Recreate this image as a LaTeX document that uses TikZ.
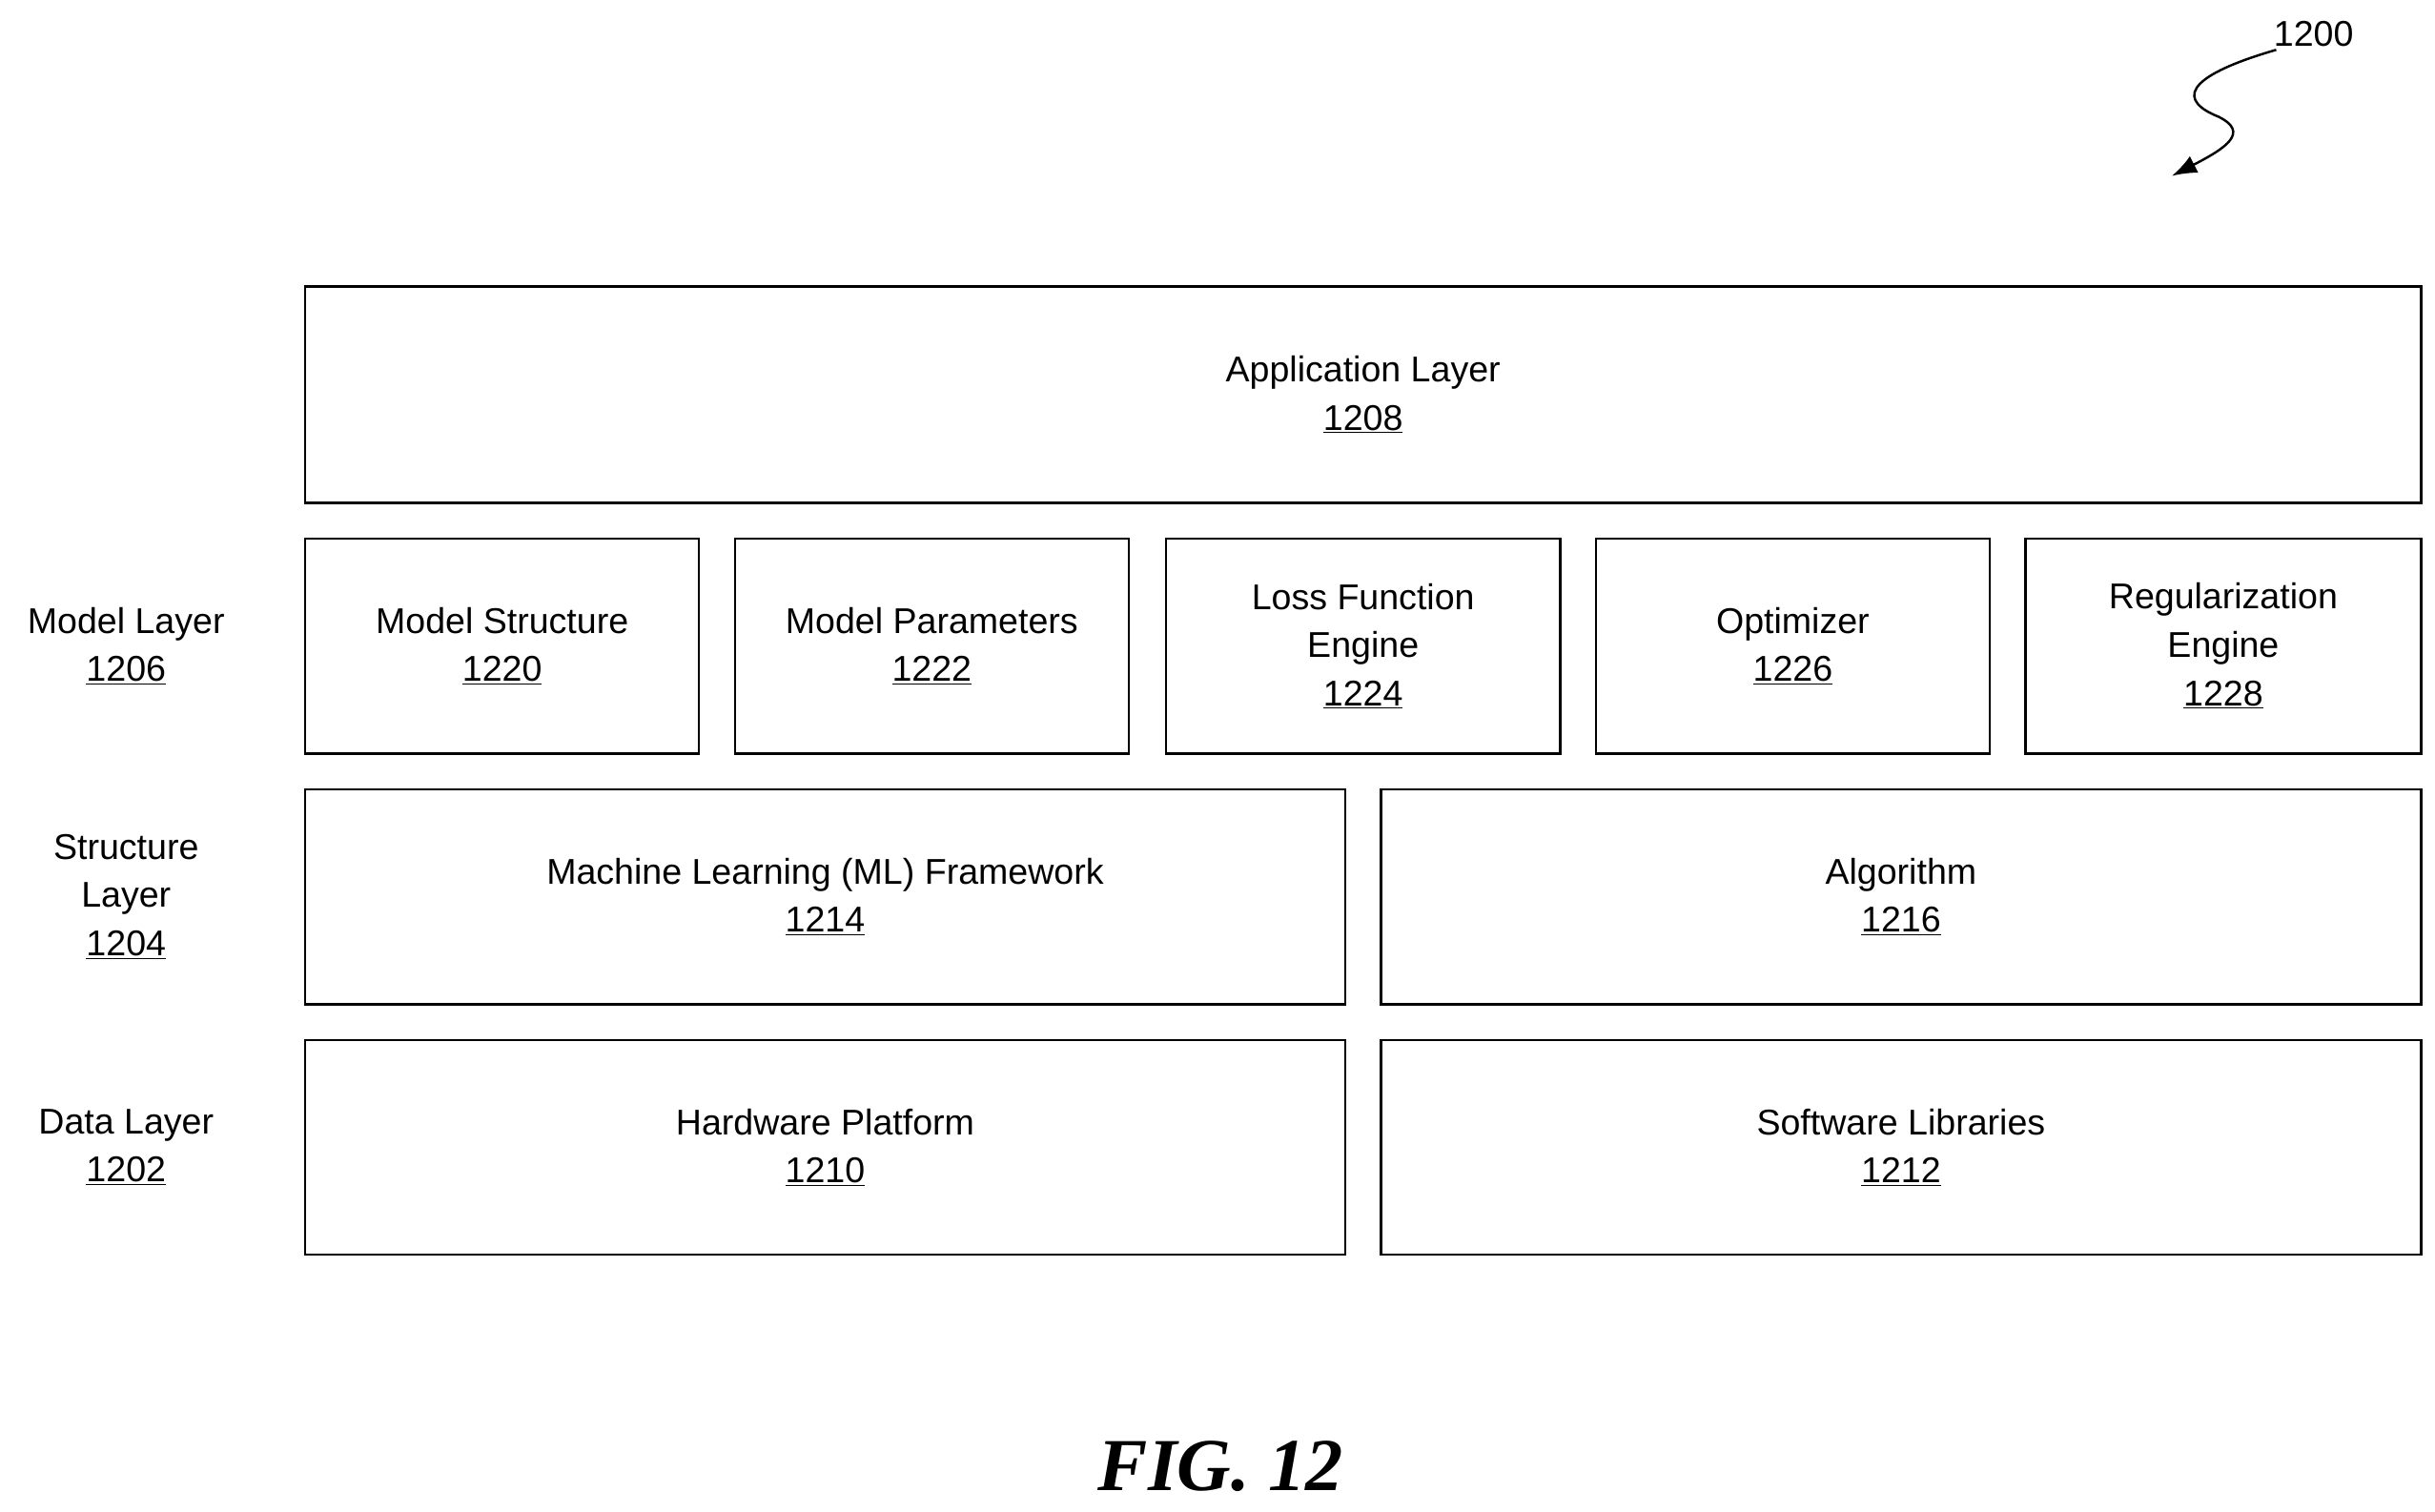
\documentclass[tikz,border=0pt]{standalone}
\usepackage{fontspec}
\usetikzlibrary{arrows.meta}
\setmainfont{Liberation Sans}
\newfontfamily\figfont{Liberation Serif}
\begin{document}
\begin{tikzpicture}[x=1pt,y=-1pt,
  box/.style={draw,line width=1.5pt,inner sep=0pt,align=center,font=\fontsize{23}{31}\selectfont},
  lab/.style={align=center,font=\fontsize{23}{31}\selectfont}]
\useasboundingbox (0,0) rectangle (1564,971);
\newcommand\bx[6]{\node[box,minimum width=#4-#2,minimum height=#5-#3] (#1) at ({(#2+#4)/2},{(#3+#5)/2}) {#6};}
\bx{app}{196}{184}{1555}{323}{Application Layer\\\underline{1208}}
\bx{ms}{196}{346}{449}{484}{Model Structure\\\underline{1220}}
\bx{mp}{472}{346}{725}{484}{Model Parameters\\\underline{1222}}
\bx{lf}{749}{346}{1002}{484}{Loss Function\\Engine\\\underline{1224}}
\bx{op}{1025}{346}{1278}{484}{Optimizer\\\underline{1226}}
\bx{re}{1301}{346}{1555}{484}{Regularization\\Engine\\\underline{1228}}
\bx{ml}{196}{507}{864}{645}{Machine Learning (ML) Framework\\\underline{1214}}
\bx{al}{887}{507}{1555}{645}{Algorithm\\\underline{1216}}
\bx{hw}{196}{668}{864}{806}{Hardware Platform\\\underline{1210}}
\bx{sw}{887}{668}{1555}{806}{Software Libraries\\\underline{1212}}
\node[lab] (l1206) at (81,415) {Model Layer\\\underline{1206}};
\node[lab] (l1204) at (81,576) {Structure\\Layer\\\underline{1204}};
\node[lab] (l1202) at (81,737) {Data Layer\\\underline{1202}};
\node[lab] (n1200) at (1486,22) {1200};
\coordinate (s) at (1462,32);
\coordinate (e) at (1395,113);
\draw[line width=1.5pt,-{Latex[length=16pt,width=12pt]}] (s) .. controls (1400,50) and (1400,65) .. (1425,75) .. controls (1445,85) and (1430,95) .. (e);
\node[font=\figfont\bfseries\itshape\fontsize{48}{50}\selectfont] (fig) at (784,942) {FIG. 12};
\end{tikzpicture}
\end{document}
